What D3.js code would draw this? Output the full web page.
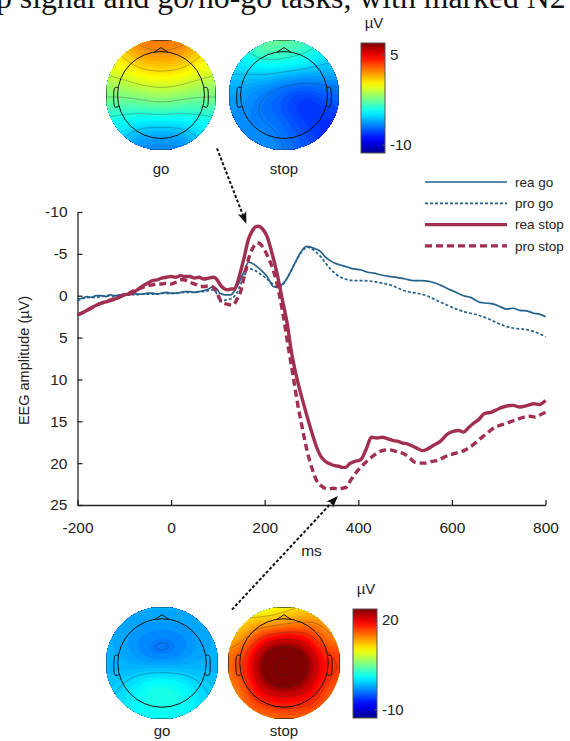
<!DOCTYPE html>
<meta charset="utf-8">
<script src="https://d3js.org/d3.v7.min.js"></script>
<style>
  body { margin: 0; background: #fff; }
  svg { display: block; font-family: "Liberation Sans", Arial, sans-serif; }
  .axis .domain, .axis line { stroke: #262626; stroke-width: 1.3; }
  .axis text { font-size: 15.5px; fill: #222; font-family: "Liberation Sans", Arial, sans-serif; }
</style>
<div id="chart"></div>
<script>

// ERP traces, [ms, µV] (negative up)
const reaGo = [[-200,0.4],[-190,0.3],[-180,0.1],[-170,0.2],[-160,0.0],[-150,0.0],[-140,0.1],[-130,-0.1],[-120,0.0],[-110,-0.1],[-100,-0.2],[-90,-0.1],[-80,-0.25],[-70,-0.2],[-60,-0.2],[-50,-0.3],[-40,-0.3],[-30,-0.2],[-20,-0.3],[-10,-0.4],[0,-0.3],[10,-0.3],[20,-0.4],[30,-0.5],[40,-0.5],[50,-0.4],[60,-0.5],[70,-0.6],[80,-0.8],[90,-1.1],[98,-0.8],[105,-0.25],[115,-0.1],[127,-0.1],[138,-0.8],[148,-1.9],[157,-3.0],[165,-4.0],[172,-3.9],[183,-3.5],[195,-2.9],[205,-2.3],[212,-1.6],[218,-1.1],[229,-1.0],[238,-1.4],[248,-2.1],[262,-3.6],[276,-5.1],[284,-5.7],[290,-5.9],[298,-5.8],[308,-5.6],[319,-5.3],[330,-4.6],[342,-4.1],[354,-3.8],[366,-3.6],[378,-3.4],[390,-3.2],[405,-3.1],[420,-2.8],[433,-2.7],[447,-2.5],[465,-2.3],[482,-2.2],[500,-2.0],[518,-1.8],[535,-1.8],[553,-1.7],[570,-1.4],[589,-0.9],[605,-0.5],[625,0.0],[640,0.2],[660,0.8],[675,0.9],[689,1.0],[703,1.3],[717,1.6],[730,1.5],[745,1.75],[760,1.8],[775,2.1],[787,2.2],[800,2.5]];
const proGo = [[-200,0.6],[-192,0.4],[-185,0.3],[-170,0.2],[-160,0.2],[-150,0.1],[-140,0.0],[-130,0.0],[-120,0.1],[-110,-0.1],[-90,-0.15],[-75,-0.1],[-60,-0.2],[-45,-0.2],[-30,-0.2],[-15,-0.3],[0,-0.25],[15,-0.3],[30,-0.4],[45,-0.4],[60,-0.5],[70,-0.5],[80,-0.6],[90,-0.7],[98,-0.2],[105,0.7],[118,0.5],[130,0.3],[140,-0.3],[148,-1.3],[157,-2.4],[165,-3.3],[175,-3.1],[183,-2.9],[195,-2.4],[205,-2.0],[215,-1.5],[222,-1.1],[230,-1.0],[240,-1.4],[250,-2.3],[262,-3.6],[276,-5.0],[285,-5.6],[292,-5.8],[300,-5.6],[310,-5.2],[319,-4.7],[330,-3.9],[342,-3.1],[354,-2.5],[366,-2.1],[378,-1.9],[390,-1.8],[410,-1.8],[432,-1.7],[450,-1.5],[468,-1.3],[485,-0.9],[504,-0.5],[525,-0.3],[546,0.0],[565,0.5],[589,1.1],[610,1.6],[632,2.0],[655,2.3],[675,2.7],[695,3.2],[717,3.7],[735,3.9],[752,4.0],[770,4.2],[785,4.5],[800,4.9]];
const reaStop = [[-200,2.3],[-188,2.0],[-175,1.6],[-162,1.2],[-150,0.9],[-137,0.7],[-125,0.5],[-112,0.2],[-100,-0.1],[-90,-0.2],[-80,-0.4],[-70,-0.8],[-60,-1.2],[-50,-1.5],[-40,-1.8],[-30,-1.9],[-20,-2.1],[-10,-2.2],[0,-2.3],[10,-2.2],[20,-2.4],[30,-2.3],[40,-2.3],[50,-2.1],[60,-2.2],[70,-2.0],[80,-2.1],[90,-2.2],[97,-2.0],[105,-1.3],[112,-0.9],[120,-0.7],[128,-0.8],[135,-0.8],[142,-1.6],[148,-2.8],[157,-4.8],[165,-6.7],[172,-7.6],[180,-8.2],[187,-8.3],[195,-8.0],[205,-7.1],[215,-5.2],[226,-2.75],[237,0.3],[248,3.3],[258,7.0],[269,9.9],[280,12.3],[290,14.3],[300,16.2],[311,18.1],[320,19.2],[330,19.8],[340,20.1],[350,20.3],[360,20.4],[365,20.5],[373,20.5],[381,20.1],[392,19.8],[405,19.6],[417,18.3],[428,16.9],[440,17.0],[451,16.9],[463,17.1],[475,17.3],[485,17.4],[495,17.6],[505,17.7],[513,17.9],[525,18.2],[537,18.5],[548,18.3],[560,17.9],[575,17.4],[591,16.5],[603,16.2],[614,16.1],[625,16.3],[635,15.8],[645,15.3],[657,14.8],[669,14.1],[685,13.9],[700,13.5],[715,13.2],[731,13.1],[745,13.3],[762,13.1],[775,12.9],[787,13.0],[800,12.5]];
const proStop = [[-200,2.3],[-188,2.0],[-175,1.6],[-162,1.2],[-150,0.9],[-137,0.7],[-125,0.4],[-112,0.2],[-100,-0.1],[-90,-0.3],[-80,-0.6],[-70,-0.8],[-60,-1.0],[-50,-1.2],[-40,-1.3],[-30,-1.4],[-20,-1.4],[-10,-1.5],[0,-1.4],[10,-1.6],[20,-1.9],[27,-1.9],[36,-1.7],[45,-1.5],[55,-1.3],[62,-1.1],[72,-1.1],[80,-1.2],[90,-1.0],[97,-0.5],[105,0.5],[112,0.9],[120,1.0],[127,1.1],[133,1.1],[140,0.5],[148,-0.4],[157,-2.5],[165,-4.3],[172,-5.4],[178,-6.0],[184,-6.3],[190,-6.2],[197,-5.7],[208,-4.5],[218,-3.1],[230,-0.5],[240,2.5],[250,6.0],[261,9.7],[270,12.8],[280,15.7],[288,17.9],[296,19.7],[304,21.1],[311,22.1],[323,22.8],[335,23.1],[346,23.0],[358,23.1],[366,23.0],[374,22.9],[383,22.1],[393,21.3],[403,20.6],[412,20.1],[428,19.3],[440,18.8],[451,18.5],[463,18.4],[475,18.5],[487,18.7],[498,18.9],[510,19.4],[521,19.9],[533,20.0],[544,20.0],[556,19.8],[568,19.7],[580,19.4],[591,19.1],[603,18.9],[614,18.7],[626,18.5],[638,18.1],[650,17.6],[660,17.1],[669,16.7],[680,16.2],[692,15.7],[708,15.4],[723,15.1],[738,14.8],[754,14.5],[766,14.4],[778,14.5],[790,14.2],[800,13.9]];

const seriesNames = ["rea go", "pro go", "rea stop", "pro stop"];
const xTicks = [-200, 0, 200, 400, 600, 800];
const yTicks = [-10, -5, 0, 5, 10, 15, 20, 25];

// scalp maps: electrode layout (head units, nose up) and values in µV
const electrodes = [
  ["Fp1",-0.31,0.95],["Fpz",0,1],["Fp2",0.31,0.95],
  ["AF3",-0.3,0.72],["AFz",0,0.75],["AF4",0.3,0.72],
  ["F7",-0.81,0.59],["F3",-0.4,0.5],["Fz",0,0.5],["F4",0.4,0.5],["F8",0.81,0.59],
  ["FC5",-0.7,0.25],["FC1",-0.25,0.25],["FCz",0,0.25],["FC2",0.25,0.25],["FC6",0.7,0.25],
  ["T7",-1,0],["C3",-0.5,0],["Cz",0,0],["C4",0.5,0],["T8",1,0],
  ["CP5",-0.7,-0.25],["CP1",-0.25,-0.25],["CPz",0,-0.25],["CP2",0.25,-0.25],["CP6",0.7,-0.25],
  ["P7",-0.81,-0.59],["P3",-0.4,-0.5],["Pz",0,-0.5],["P4",0.4,-0.5],["P8",0.81,-0.59],
  ["PO3",-0.3,-0.72],["POz",0,-0.75],["PO4",0.3,-0.72],
  ["O1",-0.31,-0.95],["Oz",0,-1],["O2",0.31,-0.95]
];
const n2Go   = [3.0,3.2,3.0, 1.5,1.6,1.5, 0.3,0.5,0.6,0.5,0.3, -1.0,-0.8,-0.6,-0.8,-1.0, -2.2,-1.8,-1.0,-1.8,-2.2, -3.4,-2.8,-1.8,-2.8,-3.4, -4.8,-4.2,-3.8,-4.2,-4.8, -6.0,-5.8,-6.0, -7.0,-7.0,-7.0];
const n2Stop = [-1.5,-2.0,-2.5, -3.5,-4.0,-4.0, -4.5,-5.5,-6.0,-6.0,-5.0, -6.0,-6.5,-7.0,-7.5,-6.5, -6.0,-7.0,-7.5,-9.0,-7.0, -6.5,-7.5,-7.5,-9.0,-8.0, -6.5,-7.0,-7.0,-8.0,-8.5, -6.5,-7.0,-8.0, -6.0,-6.5,-7.5];
const p3Go   = [-1.5,-1.5,-1.5, -2.5,-3.0,-2.5, -1.8,-4.0,-5.0,-4.0,-1.8, -2.0,-4.5,-5.0,-4.5,-2.0, -1.8,-3.0,-3.5,-3.0,-1.8, -1.2,-1.0,-0.5,-1.0,-1.2, -1.0,2.0,4.0,2.0,-1.0, 3.0,5.0,3.0, -0.5,0.5,-0.5];
const p3Stop = [6,8,10, 14,16,15, 10,21,23,22,12, 15,27,28,27,16, 15,28,30,28,17, 15,28,30,28,17, 13,24,26,24,14, 19,22,19, 12,14,13];
const n2Range = [-11.3, 7], p3Range = [-12.7, 23.7];
const n2Ticks = [5, -10], p3Ticks = [20, -10];
const mapLabels = ["go", "stop"];

const W = 570, H = 741;
const svg = d3.select("#chart").append("svg").attr("width", W).attr("height", H);
const defs = svg.append("defs");

// title fragment cut at top of figure
const title = svg.append("text")
  .attr("x", -4).attr("y", 8)
  .style("font-family", "'Liberation Serif', 'DejaVu Serif', serif")
  .style("font-size", "24px").attr("fill", "#111")
  .text("p signal and go/no-go tasks, with marked N2");
const tw = title.node().getComputedTextLength();
title.style("font-size", (24 * 570 / tw) + "px");

// ---- ERP plot ----
const x = d3.scaleLinear().domain([-200, 800]).range([77.5, 545.5]);
const y = d3.scaleLinear().domain([-10, 25]).range([212, 505]);

svg.append("g").attr("class", "axis")
  .attr("transform", `translate(0,${y(25)})`)
  .call(d3.axisBottom(x).tickValues(xTicks).tickFormat(d => String(d))
    .tickSizeInner(-5).tickSizeOuter(0).tickPadding(17));
svg.append("g").attr("class", "axis")
  .attr("transform", `translate(${x(-200)},0)`)
  .call(d3.axisLeft(y).tickValues(yTicks).tickFormat(d => String(d))
    .tickSizeInner(-5).tickSizeOuter(0).tickPadding(10));

svg.append("text").attr("transform", `translate(29,${(y(-10) + y(25)) / 2 + 2}) rotate(-90)`)
  .attr("text-anchor", "middle").style("font-size", "14.5px").attr("fill", "#222")
  .text("EEG amplitude (µV)");
svg.append("text").attr("x", 311.5).attr("y", 556)
  .attr("text-anchor", "middle").style("font-size", "15.5px").attr("fill", "#222")
  .text("ms");

const blue = "#25618a", red = "#a02f50";
const styles = [
  {data: reaGo,   color: blue, width: 1.7, dash: null},
  {data: proGo,   color: blue, width: 1.7, dash: "3,2"},
  {data: reaStop, color: red,  width: 3.4, dash: null},
  {data: proStop, color: red,  width: 3.4, dash: "7,4"}
];

const line = d3.line().x(d => x(d[0])).y(d => y(d[1])).curve(d3.curveMonotoneX);
svg.append("g").selectAll("path")
  .data(styles)
  .join("path")
    .attr("d", d => line(d.data))
    .attr("fill", "none")
    .attr("stroke", d => d.color)
    .attr("stroke-width", d => d.width)
    .attr("stroke-dasharray", d => d.dash)
    .attr("stroke-linejoin", "round");

// legend
const leg = svg.append("g");
seriesNames.forEach((name, i) => {
  const ly = 182 + i * 21.3;
  leg.append("line").attr("x1", 425).attr("x2", 507).attr("y1", ly).attr("y2", ly)
    .attr("stroke", styles[i].color).attr("stroke-width", styles[i].width)
    .attr("stroke-dasharray", styles[i].dash);
  leg.append("text").attr("x", 515).attr("y", ly).attr("dy", "0.35em")
    .style("font-size", "13.5px").attr("fill", "#222").text(name);
});

// arrows (tips in data units)
defs.append("marker").attr("id", "ah")
  .attr("viewBox", "0 -5 12 10").attr("refX", 11).attr("refY", 0)
  .attr("markerUnits", "userSpaceOnUse").attr("markerWidth", 12).attr("markerHeight", 10)
  .attr("orient", "auto")
  .append("path").attr("d", "M0,-4.5L12,0L0,4.5L3,0Z").attr("fill", "#111");

const arrows = [
  {from: [98, -17.6], to: [160, -8.7]},
  {from: [130, 37.5], to: [355, 24.0]}
];
svg.append("g").selectAll("line").data(arrows).join("line")
  .attr("x1", d => x(d.from[0])).attr("y1", d => y(d.from[1]))
  .attr("x2", d => x(d.to[0])).attr("y2", d => y(d.to[1]))
  .attr("stroke", "#111").attr("stroke-width", 2).attr("stroke-dasharray", "3,2")
  .attr("marker-end", "url(#ah)");

// ---- scalp maps ----
const jet = d3.scaleLinear()
  .domain([0, 0.125, 0.375, 0.625, 0.875, 1])
  .range(["#00008f", "#0000ff", "#00ffff", "#ffff00", "#ff0000", "#800000"])
  .clamp(true);

function field(vals, hx, hy) {
  const s = 0.3;
  let num = 0, den = 0;
  electrodes.forEach((e, k) => {
    const d2 = (hx - e[1]) ** 2 + (hy - e[2]) ** 2;
    const w = Math.exp(-d2 / (2 * s * s));
    num += w * vals[k]; den += w;
  });
  return num / den;
}

let clipId = 0;
function topomap(cx, cy, R, vals, range, label, labelY, lineStep) {
  const g = svg.append("g");
  const id = "clip" + (clipId++);
  defs.append("clipPath").attr("id", id).append("circle").attr("cx", cx).attr("cy", cy).attr("r", R);
  const ext = 1.25, n = 90;
  const grid = new Array(n * n);
  for (let j = 0; j < n; j++) for (let i = 0; i < n; i++) {
    const hx = ((i + 0.5) / n * 2 - 1) * ext;
    const hy = -((j + 0.5) / n * 2 - 1) * ext;
    grid[j * n + i] = field(vals, hx, hy);
  }
  const c = d3.scaleLinear().domain(range).range([0, 1]);
  const step = (range[1] - range[0]) / 72;
  const th = d3.range(range[0] - 6, range[1] + 8, step);
  const path = d3.geoPath(d3.geoIdentity().scale(2 * R / n).translate([cx - R, cy - R]));
  const inner = g.append("g").attr("clip-path", `url(#${id})`);
  inner.append("g").selectAll("path")
    .data(d3.contours().size([n, n]).thresholds(th)(grid))
    .join("path").attr("d", path)
    .attr("fill", d => jet(c(d.value + step / 2)))
    .attr("stroke", d => jet(c(d.value + step / 2))).attr("stroke-width", 0.3);
  inner.append("g").selectAll("path")
    .data(d3.contours().size([n, n]).thresholds(d3.range(range[0], range[1] + 8, lineStep))(grid))
    .join("path").attr("d", path)
    .attr("fill", "none").attr("stroke", "#333").attr("stroke-opacity", 0.55).attr("stroke-width", 0.6);

  // head outline
  const hr = 0.79 * R;
  const hp = (a, b) => [cx + a * hr, cy - b * hr];
  g.append("circle").attr("cx", cx).attr("cy", cy).attr("r", hr)
    .attr("fill", "none").attr("stroke", "#111").attr("stroke-width", 1);
  g.append("path").attr("d", d3.line()([hp(-0.16, 0.985), hp(0, 1.09), hp(0.16, 0.985)]))
    .attr("fill", "none").attr("stroke", "#111").attr("stroke-width", 1);
  [-1, 1].forEach(sd => {
    const ear = d3.line().curve(d3.curveBasis)([hp(sd * 0.985, 0.17), hp(sd * 1.06, 0.19), hp(sd * 1.09, 0.12),
      hp(sd * 1.09, -0.22), hp(sd * 1.06, -0.3), hp(sd * 0.97, -0.26)]);
    g.append("path").attr("d", ear).attr("fill", "none").attr("stroke", "#111").attr("stroke-width", 1);
  });
  g.append("text").attr("x", cx).attr("y", labelY).attr("text-anchor", "middle")
    .style("font-size", "15px").attr("fill", "#222").text(label);
}

function colorbar(x0, y0, w, h, range, ticks, unitY) {
  const id = "grad" + (clipId++);
  const grad = defs.append("linearGradient").attr("id", id)
    .attr("x1", 0).attr("y1", 1).attr("x2", 0).attr("y2", 0);
  d3.range(0, 1.0001, 0.05).forEach(t => grad.append("stop").attr("offset", t).attr("stop-color", jet(t)));
  svg.append("rect").attr("x", x0).attr("y", y0).attr("width", w).attr("height", h)
    .attr("fill", `url(#${id})`).attr("stroke", "#555").attr("stroke-width", 1);
  const s = d3.scaleLinear().domain(range).range([y0 + h, y0]);
  ticks.forEach(t => {
    svg.append("line").attr("x1", x0 + w - 3).attr("x2", x0 + w).attr("y1", s(t)).attr("y2", s(t))
      .attr("stroke", "#555");
    svg.append("text").attr("x", x0 + w + 5).attr("y", s(t)).attr("dy", "0.35em")
      .style("font-size", "15px").attr("fill", "#222").text(t);
  });
  svg.append("text").attr("x", x0 + w / 2 + 1).attr("y", unitY).attr("text-anchor", "middle")
    .style("font-size", "15px").attr("fill", "#222").text("µV");
}

topomap(161, 95, 55, n2Go, n2Range, mapLabels[0], 174, 1.5);
topomap(284, 95, 55, n2Stop, n2Range, mapLabels[1], 174, 1.5);
colorbar(361, 43, 24, 110, n2Range, n2Ticks, 28);

topomap(162, 663, 56, p3Go, p3Range, mapLabels[0], 736, 3);
topomap(284, 663, 56, p3Stop, p3Range, mapLabels[1], 736, 3);
colorbar(353, 609, 24, 109, p3Range, p3Ticks, 594);

</script>
